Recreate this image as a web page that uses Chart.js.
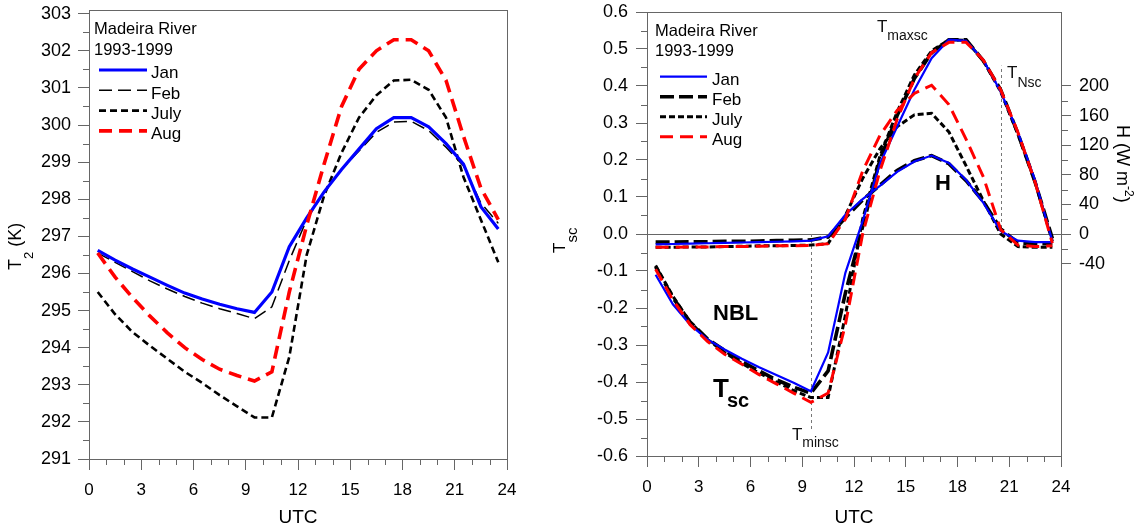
<!DOCTYPE html>
<html><head><meta charset="utf-8">
<script src="https://cdn.jsdelivr.net/npm/chart.js@4.4.1/dist/chart.umd.min.js"></script>
<style>
html,body{margin:0;padding:0;background:#fff;}
#wrap{position:relative;width:1143px;height:527px;overflow:hidden;background:#fff;}
canvas{position:absolute;top:0;}
#c1{left:0;} #c2{left:540px;}
</style></head><body>
<div id="wrap"><canvas id="c1" width="540" height="527"></canvas><canvas id="c2" width="603" height="527"></canvas></div>
<script>
// ---------------- data ----------------
const HOURS = [0.5,1.5,2.5,3.5,4.5,5.5,6.5,7.5,8.5,9.5,10.5,11.5,12.5,13.5,14.5,15.5,16.5,17.5,18.5,19.5,20.5,21.5,22.5,23.5];
const MONTHS = ['Jan','Feb','July','Aug'];

const T2_JAN  = [296.62,296.36,296.12,295.90,295.68,295.47,295.31,295.17,295.05,294.95,295.50,296.72,297.50,298.20,298.80,299.35,299.90,300.20,300.20,299.95,299.50,298.95,297.80,297.20];
const T2_FEB  = [296.55,296.30,296.05,295.80,295.58,295.38,295.20,295.05,294.92,294.78,295.10,296.35,297.45,298.20,298.80,299.30,299.80,300.08,300.10,299.85,299.40,298.90,297.90,297.35];
const T2_JULY = [295.50,294.90,294.42,294.05,293.70,293.35,293.05,292.72,292.42,292.12,292.12,293.75,296.50,298.10,299.25,300.20,300.80,301.20,301.22,300.95,300.20,298.60,297.45,296.30];
const T2_AUG  = [296.55,295.90,295.35,294.85,294.40,294.00,293.68,293.42,293.25,293.10,293.35,295.50,297.30,298.95,300.50,301.50,302.00,302.30,302.30,302.00,301.20,299.70,298.30,297.45];

const TSC_JAN  = [-0.110,-0.190,-0.245,-0.285,-0.312,-0.337,-0.360,-0.381,-0.402,-0.425,-0.320,-0.105,0.035,0.190,0.290,0.390,0.475,0.525,0.522,0.470,0.385,0.275,0.145,-0.020];
const TSC_FEB  = [-0.088,-0.172,-0.238,-0.283,-0.315,-0.345,-0.370,-0.394,-0.414,-0.430,-0.370,-0.160,0.020,0.200,0.320,0.420,0.490,0.525,0.525,0.468,0.390,0.272,0.140,-0.012];
const TSC_JULY = [-0.085,-0.168,-0.238,-0.285,-0.320,-0.350,-0.376,-0.400,-0.423,-0.442,-0.442,-0.220,0.040,0.210,0.330,0.430,0.495,0.525,0.523,0.468,0.385,0.270,0.140,-0.020];
const TSC_AUG  = [-0.095,-0.178,-0.245,-0.290,-0.325,-0.352,-0.380,-0.405,-0.430,-0.455,-0.430,-0.245,0.000,0.170,0.310,0.420,0.490,0.518,0.518,0.470,0.390,0.275,0.140,-0.025];

const H_JAN  = [-14,-13.5,-13,-12.5,-12,-11.5,-11,-10.5,-10,-9,-3,26,47,65,84,98,106,96,73,42,4,-9,-11,-11];
const H_FEB  = [-11,-11,-10.5,-10.5,-10,-10,-9.5,-9,-8.5,-8,-4,22,46,66,86,99,106,95,72,44,7,-12,-13,-13];
const H_JULY = [-18,-18,-17.5,-17.5,-17,-16.5,-16,-16,-15.5,-15,-13,25,75,115,145,161,163,138,92,45,0,-17,-18,-18];
const H_AUG  = [-18,-18,-17.5,-17.5,-17,-17,-16.5,-16,-16,-15.5,-13,20,85,133,167,190,201,175,128,77,6,-15,-17,-16];

const UTC_TICKS = [0,3,6,9,12,15,18,21,24];
const T2_TICKS  = [291,292,293,294,295,296,297,298,299,300,301,302,303];
const TSC_TICKS = [-0.6,-0.5,-0.4,-0.3,-0.2,-0.1,0,0.1,0.2,0.3,0.4,0.5,0.6];
const H_TICKS   = [-40,0,40,80,120,160,200];
const TITLE_LINES = ['Madeira River','1993-1999'];

// ---------------- styles ----------------
const FONT = "'Liberation Sans', Arial, Helvetica, sans-serif";
const AX = '#666';
const LEFT_STYLE = [
  {color:'#0000ff', width:3.2, dash:[], order:1},
  {color:'#000000', width:1.5, dash:[13,6], order:3},
  {color:'#000000', width:2.6, dash:[7,4], order:2},
  {color:'#ff0000', width:3.6, dash:[13,7], order:0}
];
const RIGHT_STYLE = [
  {color:'#0000ff', width:2.2, dash:[], order:1},
  {color:'#000000', width:3.6, dash:[14,5], order:3},
  {color:'#000000', width:3.0, dash:[6,3], order:2},
  {color:'#ff0000', width:3.0, dash:[13,7], order:0}
];

function pts(vals){ return HOURS.map((h,i)=>({x:h, y:vals[i]})); }

function drawParts(ctx, x, y, parts, color){
  let cx = x;
  ctx.fillStyle = color || '#000';
  ctx.textAlign = 'left';
  ctx.textBaseline = 'alphabetic';
  for (const p of parts){
    ctx.font = (p.weight||'normal') + ' ' + p.size + 'px ' + FONT;
    ctx.fillText(p.t, cx + (p.dx||0), y + (p.dy||0));
    cx += ctx.measureText(p.t).width + (p.dx||0);
  }
}
function rotParts(ctx, x, y, ang, parts, color){
  ctx.save(); ctx.translate(x,y); ctx.rotate(ang); drawParts(ctx,0,0,parts,color); ctx.restore();
}
function minorTicks(ctx, scale, values, len, side){
  ctx.save(); ctx.strokeStyle = AX; ctx.lineWidth = 1; ctx.beginPath();
  for (const v of values){
    const p = Math.round(scale.getPixelForValue(v)) + 0.5;
    if (side==='bottom'){ ctx.moveTo(p, scale.top); ctx.lineTo(p, scale.top+len); }
    else if (side==='left'){ ctx.moveTo(scale.right, p); ctx.lineTo(scale.right-len, p); }
    else { ctx.moveTo(scale.left, p); ctx.lineTo(scale.left+len, p); }
  }
  ctx.stroke(); ctx.restore();
}
function frame(chart){
  const a = chart.chartArea, ctx = chart.ctx;
  ctx.save(); ctx.strokeStyle = AX; ctx.lineWidth = 1;
  ctx.strokeRect(Math.round(a.left)+0.5, Math.round(a.top)+0.5, Math.round(a.right-a.left), Math.round(a.bottom-a.top));
  ctx.restore();
}
function legendBlock(chart, x0, yTitle, x1, x2, yLine, step, tx){
  const ctx = chart.ctx;
  ctx.save();
  ctx.fillStyle = '#000'; ctx.textAlign='left'; ctx.textBaseline='alphabetic';
  ctx.font = '16.5px ' + FONT;
  ctx.fillText(TITLE_LINES[0], x0, yTitle);
  ctx.fillText(TITLE_LINES[1], x0, yTitle+20.3);
  const ds = chart.data.datasets.filter(d=>d.inLegend);
  ds.forEach((d,i)=>{
    const y = yLine + i*step;
    ctx.beginPath(); ctx.strokeStyle = d.borderColor; ctx.lineWidth = d.borderWidth;
    ctx.setLineDash(d.borderDash||[]); ctx.moveTo(x1,y); ctx.lineTo(x2,y); ctx.stroke();
    ctx.setLineDash([]);
    ctx.font = '17px ' + FONT; ctx.fillStyle='#000';
    ctx.fillText(d.label, tx, y+8.3);
  });
  ctx.restore();
}
function fixAxis(prop, val){
  return function(s){ s[prop]=val; s.paddingLeft=0; s.paddingRight=0; s.paddingTop=0; s.paddingBottom=0; };
}
function setTicks(arr){ return function(s){ s.ticks = arr.map(v=>({value:v})); }; }
function range(a,b,st){ const r=[]; for(let v=a; v<=b+1e-9; v+=st) r.push(+v.toFixed(4)); return r; }

const tickFont = {family:FONT, size:18};
const xTickFont = {family:FONT, size:17};

// ---------------- left chart ----------------
const leftPlugin = {
  id:'leftDeco',
  beforeDatasetsDraw(chart){
    frame(chart);
    const ctx = chart.ctx;
    minorTicks(ctx, chart.scales.x, range(0,24,1).filter(v=>v%3!==0), 6, 'bottom');
    minorTicks(ctx, chart.scales.y, range(291.5,302.5,1), 6, 'left');
  },
  afterDraw(chart){
    const ctx = chart.ctx, a = chart.chartArea;
    legendBlock(chart, 94, 34.3, 99, 147, 70, 20.3, 151);
    rotParts(ctx, 21, 270, -Math.PI/2, [{t:'T',size:18},{t:'2',size:13,dy:12},{t:' (K)',size:18}]);
    ctx.save(); ctx.font='19px '+FONT; ctx.fillStyle='#000'; ctx.textAlign='center'; ctx.textBaseline='alphabetic';
    ctx.fillText('UTC', (a.left+a.right)/2, 523); ctx.restore();
  }
};

new Chart(document.getElementById('c1'), {
  type:'line',
  data:{ datasets: [T2_JAN,T2_FEB,T2_JULY,T2_AUG].map((v,i)=>({
    label:MONTHS[i], inLegend:true, data:pts(v), borderColor:LEFT_STYLE[i].color, borderWidth:LEFT_STYLE[i].width,
    borderDash:LEFT_STYLE[i].dash, order:LEFT_STYLE[i].order, pointRadius:0, fill:false, tension:0 })) },
  options:{
    responsive:false, maintainAspectRatio:false, animation:false,
    layout:{padding:{top:10,right:33,bottom:0,left:0}},
    plugins:{legend:{display:false}, tooltip:{enabled:false}},
    scales:{
      x:{type:'linear', min:0, max:24, afterBuildTicks:setTicks(UTC_TICKS), afterFit:fixAxis('height',68),
         grid:{drawOnChartArea:false, tickLength:11, tickColor:AX}, border:{color:AX},
         ticks:{font:xTickFont, color:'#000', padding:10, maxRotation:0, autoSkip:false, callback:v=>String(v)}},
      y:{type:'linear', min:291, max:303.1, afterBuildTicks:setTicks(T2_TICKS), afterFit:fixAxis('width',89),
         grid:{drawOnChartArea:false, tickLength:11, tickColor:AX}, border:{color:AX},
         ticks:{font:tickFont, color:'#000', padding:7, autoSkip:false, callback:v=>String(v)}}
    }
  },
  plugins:[leftPlugin]
});

// ---------------- right chart ----------------
const rightPlugin = {
  id:'rightDeco',
  beforeDatasetsDraw(chart){
    frame(chart);
    const ctx = chart.ctx, xs = chart.scales.x, ys = chart.scales.y, a = chart.chartArea;
    minorTicks(ctx, xs, range(0,24,1).filter(v=>v%3!==0), 6, 'bottom');
    minorTicks(ctx, ys, range(-0.55,0.55,0.1), 6, 'left');
    minorTicks(ctx, chart.scales.yH, range(-20,180,40), 7, 'right');
    // zero line
    const y0 = Math.round(ys.getPixelForValue(0))+0.5;
    ctx.save(); ctx.strokeStyle='#666'; ctx.lineWidth=1; ctx.beginPath(); ctx.moveTo(a.left,y0); ctx.lineTo(a.right,y0); ctx.stroke();
    // vertical dashed markers
    ctx.strokeStyle='#777'; ctx.setLineDash([3,3]); ctx.beginPath();
    let px = Math.round(xs.getPixelForValue(9.5))+0.5;
    ctx.moveTo(px, ys.getPixelForValue(0)); ctx.lineTo(px, ys.getPixelForValue(-0.535));
    px = Math.round(xs.getPixelForValue(20.5))+0.5;
    ctx.moveTo(px, ys.getPixelForValue(0)); ctx.lineTo(px, ys.getPixelForValue(0.455));
    ctx.stroke(); ctx.restore();
  },
  afterDraw(chart){
    const ctx = chart.ctx, a = chart.chartArea, xs = chart.scales.x, ys = chart.scales.y;
    legendBlock(chart, 115, 36, 120, 167, 76.7, 20, 172);
    const X = v=>xs.getPixelForValue(v), Y = v=>ys.getPixelForValue(v);
    drawParts(ctx, X(3.83), Y(-0.232), [{t:'NBL',size:22,weight:'bold'}]);
    drawParts(ctx, X(3.83), Y(-0.44), [{t:'T',size:26,weight:'bold'},{t:'sc',size:20,weight:'bold',dy:10,dx:-2}]);
    drawParts(ctx, X(16.7), Y(0.119), [{t:'H',size:22,weight:'bold'}]);
    drawParts(ctx, X(13.33), Y(0.546), [{t:'T',size:17},{t:'maxsc',size:14,dy:8}], '#111');
    drawParts(ctx, X(20.87), Y(0.4216), [{t:'T',size:17},{t:'Nsc',size:14,dy:9}], '#111');
    drawParts(ctx, X(8.4), Y(-0.557), [{t:'T',size:17},{t:'minsc',size:14,dy:7}], '#111');
    rotParts(ctx, 25, 253, -Math.PI/2, [{t:'T',size:17},{t:'sc',size:15,dy:12}]);
    rotParts(ctx, 577, 125, Math.PI/2, [{t:'H (W m',size:18},{t:'-2',size:12,dy:-8},{t:')',size:18}]);
    ctx.save(); ctx.font='19px '+FONT; ctx.fillStyle='#000'; ctx.textAlign='center'; ctx.textBaseline='alphabetic';
    ctx.fillText('UTC', (a.left+a.right)/2, 523); ctx.restore();
  }
};

const rightSets = [];
[TSC_JAN,TSC_FEB,TSC_JULY,TSC_AUG].forEach((v,i)=>rightSets.push({
  label:MONTHS[i], inLegend:true, yAxisID:'y', data:pts(v), borderColor:RIGHT_STYLE[i].color, borderWidth:RIGHT_STYLE[i].width,
  borderDash:RIGHT_STYLE[i].dash, order:RIGHT_STYLE[i].order, pointRadius:0, fill:false, tension:0 }));
[H_JAN,H_FEB,H_JULY,H_AUG].forEach((v,i)=>rightSets.push({
  label:MONTHS[i]+' H', inLegend:false, yAxisID:'yH', data:pts(v), borderColor:RIGHT_STYLE[i].color, borderWidth:RIGHT_STYLE[i].width,
  borderDash:RIGHT_STYLE[i].dash, order:RIGHT_STYLE[i].order, pointRadius:0, fill:false, tension:0 }));

new Chart(document.getElementById('c2'), {
  type:'line',
  data:{ datasets: rightSets },
  options:{
    responsive:false, maintainAspectRatio:false, animation:false,
    layout:{padding:{top:12,right:0,bottom:0,left:0}},
    plugins:{legend:{display:false}, tooltip:{enabled:false}},
    scales:{
      x:{type:'linear', min:0, max:24, afterBuildTicks:setTicks(UTC_TICKS), afterFit:fixAxis('height',71),
         grid:{drawOnChartArea:false, tickLength:11, tickColor:AX}, border:{color:AX},
         ticks:{font:xTickFont, color:'#000', padding:10, maxRotation:0, autoSkip:false, callback:v=>String(v)}},
      y:{type:'linear', position:'left', min:-0.6, max:0.6, afterBuildTicks:setTicks(TSC_TICKS), afterFit:fixAxis('width',107),
         grid:{drawOnChartArea:false, tickLength:11, tickColor:AX}, border:{color:AX},
         ticks:{font:tickFont, color:'#000', padding:8, autoSkip:false, callback:v=>v.toFixed(1)}},
      yH:{type:'linear', position:'right', min:-300, max:300, afterBuildTicks:setTicks(H_TICKS), afterFit:fixAxis('width',82),
         grid:{drawOnChartArea:false, tickLength:10, tickColor:AX}, border:{color:AX},
         ticks:{font:tickFont, color:'#000', padding:8, autoSkip:false, callback:v=>String(v)}}
    }
  },
  plugins:[rightPlugin]
});
</script>
</body></html>
